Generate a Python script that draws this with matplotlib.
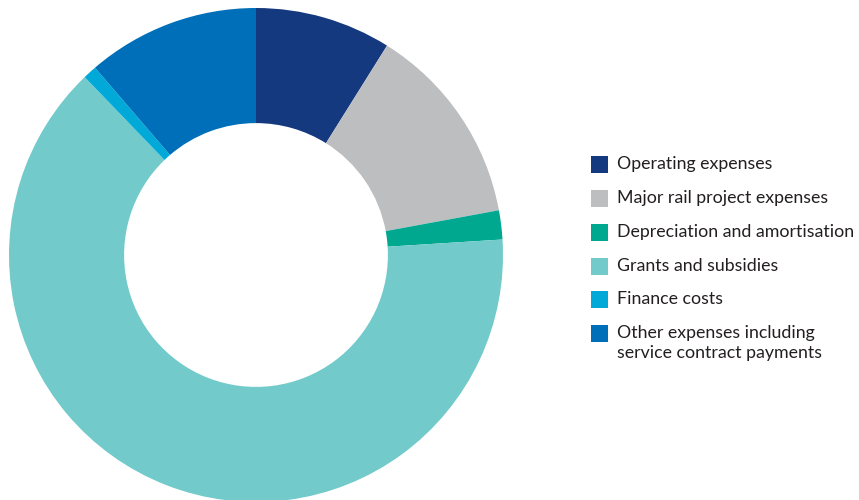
import matplotlib
matplotlib.use("Agg")
import matplotlib.pyplot as plt
from matplotlib.patches import Rectangle

# Expense breakdown (% of total)
categories = [
    "Operating expenses",
    "Major rail project expenses",
    "Depreciation and amortisation",
    "Grants and subsidies",
    "Finance costs",
    "Other expenses including\nservice contract payments",
]
shares = [8.9, 13.2, 1.9, 63.8, 0.9, 11.3]
colors = ["#15397F", "#BDBEC0", "#00A88F", "#72CACA", "#00A9D8", "#006FBA"]

W, H = 859, 500
fig = plt.figure(figsize=(W / 100, H / 100), dpi=100)

# donut: centre (256, 255) px, outer radius 247 px
cx, cy, r = 256, 255, 247
ax = fig.add_axes([(cx - r) / W, (H - cy - r) / H, 2 * r / W, 2 * r / H])
ax.pie(
    shares,
    colors=colors,
    startangle=90,
    counterclock=False,
    radius=1.0,
    wedgeprops=dict(width=0.466, linewidth=0),
)
ax.set_xlim(-1, 1)
ax.set_ylim(-1, 1)
ax.set_aspect("equal")
ax.axis("off")

# legend drawn by hand so the swatch lines up with the first text line
row_y = [164, 198, 232, 266, 299, 333]
sq = 17
for y, label, c in zip(row_y, categories, colors):
    fig.add_artist(Rectangle(
        (591 / W, (H - y - sq / 2) / H), sq / W, sq / H,
        transform=fig.transFigure, facecolor=c, edgecolor="none",
    ))
    for k, line in enumerate(label.split("\n")):
        fig.text(617 / W, (H - y - 20 * k) / H, line, ha="left", va="center",
                 fontsize=12.8, family="Lato", color="#231F20")

fig.savefig("out.png", dpi=100)
